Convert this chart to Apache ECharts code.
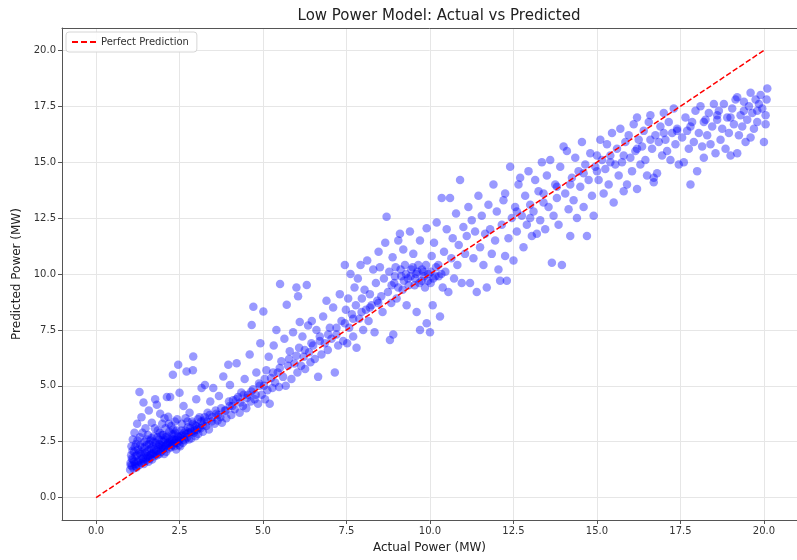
<!DOCTYPE html>
<html>
<head>
<meta charset="utf-8">
<script src="https://cdn.jsdelivr.net/npm/echarts@6/dist/echarts.min.js"></script>
<style>
  html, body { margin: 0; padding: 0; background: #fff; }
  #chart { width: 797px; height: 560px; }
</style>
</head>
<body>
<div id="chart"></div>
<script>
// 轴刻度
const tickValues = [0, 2.5, 5, 7.5, 10, 12.5, 15, 17.5, 20];

// 完美预测参考线 (y = x)
const perfectX = [0, 20];
const perfectY = [0, 20];

// 散点 [实际功率, 预测功率]，按实际功率分段
const points_1_to_2_5 = [
  [1.02,1.25],[1.03,1.55],[1.05,1.9],[1.06,2.3],[1.08,1.4],[1.1,2.6],[1.1,1.7],[1.12,1.3],[1.14,2.05],[1.15,2.9],
  [1.17,1.5],[1.18,1.85],[1.2,2.4],[1.21,1.35],[1.23,3.3],[1.25,1.65],[1.26,2.15],[1.28,1.45],[1.3,4.72],[1.31,2.7],
  [1.33,1.95],[1.35,1.55],[1.36,3.6],[1.38,2.25],[1.4,1.75],[1.42,4.25],[1.43,1.5],[1.45,2.5],[1.47,2.0],[1.48,3.1],
  [1.5,1.65],[1.52,2.35],[1.54,1.85],[1.55,2.8],[1.57,1.6],[1.58,3.9],[1.6,2.15],[1.62,1.75],[1.63,2.55],[1.65,1.95],
  [1.67,3.35],[1.68,1.7],[1.7,2.3],[1.72,2.0],[1.73,2.75],[1.75,1.85],[1.77,4.4],[1.78,2.45],[1.8,2.1],[1.82,4.15],
  [1.83,1.9],[1.85,3.0],[1.87,2.25],[1.88,2.6],[1.9,1.95],[1.92,3.75],[1.93,2.35],[1.95,2.05],[1.97,2.8],[1.98,3.3],
  [2.0,2.15],[2.02,2.5],[2.04,1.95],[2.05,3.55],[2.07,2.3],[2.09,2.7],[2.1,2.05],[2.12,4.5],[2.14,2.4],[2.16,3.62],
  [2.17,2.2],[2.19,2.95],[2.2,2.5],[2.22,4.5],[2.24,2.25],[2.25,3.2],[2.27,2.6],[2.29,2.35],[2.3,5.5],[2.32,2.85],
  [2.34,2.3],[2.36,3.4],[2.38,2.55],[2.4,2.15],[2.42,3.0],[2.44,2.45],[2.46,5.94],[2.47,2.7],[2.49,2.35],[2.5,4.69]
];

const points_2_5_to_5 = [
  [2.52,2.3],[2.55,2.75],[2.57,3.3],[2.6,2.45],[2.62,4.1],[2.64,2.9],[2.66,2.55],[2.68,3.55],[2.71,5.64],[2.73,2.7],
  [2.75,3.15],[2.78,2.6],[2.8,3.8],[2.83,2.95],[2.85,2.65],[2.88,3.4],[2.9,5.7],[2.91,6.31],[2.93,2.9],[2.96,3.25],
  [2.98,2.75],[3.0,4.4],[3.03,3.05],[3.06,2.85],[3.1,3.6],[3.13,3.1],[3.16,4.9],[3.2,2.95],[3.23,3.45],[3.26,5.04],
  [3.3,3.2],[3.34,3.8],[3.38,3.05],[3.42,4.3],[3.46,3.4],[3.51,4.9],[3.55,3.3],[3.6,3.75],[3.64,3.45],[3.68,4.55],
  [3.72,3.6],[3.77,3.35],[3.81,5.42],[3.85,3.9],[3.9,3.55],[3.96,5.94],[4.0,4.1],[4.01,5.04],[4.05,3.7],[4.1,4.35],
  [4.15,3.95],[4.21,6.01],[4.25,4.5],[4.3,3.8],[4.35,4.7],[4.4,4.1],[4.45,5.3],[4.5,4.0],[4.55,4.6],[4.6,6.4],
  [4.63,4.3],[4.66,7.72],[4.7,4.85],[4.71,8.54],[4.75,4.4],[4.8,5.6],[4.85,4.2],[4.88,5.1],[4.92,6.9],[4.96,4.6]
];

const points_5_to_7_5 = [
  [5.01,8.32],[5.03,5.0],[5.06,4.4],[5.1,5.7],[5.13,4.8],[5.17,6.3],[5.2,4.2],[5.24,5.35],[5.28,4.9],[5.32,6.8],
  [5.36,5.15],[5.4,7.5],[5.44,5.6],[5.48,4.95],[5.51,9.55],[5.55,6.1],[5.6,5.4],[5.64,7.1],[5.68,5.0],[5.71,8.62],
  [5.75,5.9],[5.8,6.55],[5.85,5.3],[5.9,7.4],[5.94,6.0],[6.0,9.4],[6.03,5.6],[6.05,9.0],[6.08,6.7],[6.1,7.85],
  [6.14,5.9],[6.18,7.2],[6.22,6.3],[6.26,5.75],[6.31,9.51],[6.35,7.7],[6.38,6.5],[6.42,6.05],[6.46,7.9],[6.5,6.8],
  [6.55,6.2],[6.6,7.5],[6.65,5.4],[6.7,7.0],[6.75,6.4],[6.8,8.1],[6.85,6.9],[6.9,8.8],[6.94,6.6],[7.0,7.6],
  [7.05,7.1],[7.1,8.5],[7.15,5.6],[7.2,7.3],[7.25,6.8],[7.3,9.1],[7.35,7.9],[7.4,7.0],[7.45,10.4],[7.48,8.4]
];

const points_7_5_to_10 = [
  [7.52,6.9],[7.55,8.9],[7.58,7.6],[7.62,10.0],[7.66,8.2],[7.7,7.2],[7.74,9.4],[7.78,8.6],[7.8,6.7],[7.84,9.8],
  [7.88,8.0],[7.92,10.4],[7.96,8.9],[8.0,7.5],[8.04,9.3],[8.08,8.4],[8.12,10.6],[8.16,7.9],[8.2,9.1],[8.25,8.6],
  [8.3,10.2],[8.34,7.4],[8.38,9.6],[8.42,8.8],[8.46,11.0],[8.5,10.3],[8.54,9.0],[8.58,8.3],[8.62,9.8],[8.66,11.4],
  [8.7,12.56],[8.74,9.2],[8.78,10.1],[8.8,7.05],[8.84,8.7],[8.88,10.75],[8.9,7.3],[8.93,9.6],[8.97,10.3],[9.0,8.9],
  [9.05,11.5],[9.1,11.8],[9.14,9.9],[9.18,9.3],[9.2,11.1],[9.25,10.4],[9.3,8.6],[9.34,9.8],[9.4,11.9],[9.44,10.2],
  [9.5,10.9],[9.54,9.5],[9.58,10.0],[9.6,8.3],[9.65,10.4],[9.7,11.5],[9.7,7.5],[9.75,9.7],[9.8,10.1],[9.85,9.4],
  [9.9,12.05],[9.9,7.8],[9.95,10.0],[10.0,7.4]
];

const points_10_to_12_5 = [
  [10.02,9.6],[10.05,10.8],[10.08,8.6],[10.12,11.4],[10.16,9.9],[10.2,12.3],[10.25,10.4],[10.3,8.1],[10.35,13.4],[10.38,9.4],
  [10.42,11.0],[10.46,10.1],[10.5,12.0],[10.55,9.2],[10.6,13.4],[10.64,10.7],[10.68,11.6],[10.72,9.8],[10.78,12.7],[10.82,10.4],
  [10.86,11.3],[10.9,14.2],[10.95,9.6],[11.0,12.1],[11.05,10.9],[11.1,11.7],[11.15,13.0],[11.2,9.6],[11.25,12.4],[11.3,10.7],
  [11.35,11.9],[11.4,9.2],[11.45,13.5],[11.5,11.2],[11.55,12.6],[11.6,10.4],[11.65,11.8],[11.7,9.4],[11.75,13.1],[11.8,12.0],
  [11.85,10.9],[11.9,14.0],[11.95,11.5],[12.0,12.8],[12.05,10.2],[12.1,9.7],[12.15,12.2],[12.2,13.3],[12.25,10.8],[12.25,13.6],
  [12.3,9.7],[12.35,11.6],[12.4,14.8],[12.45,12.5],[12.5,10.6]
];

const points_12_5_to_15 = [
  [12.55,13.0],[12.6,11.9],[12.65,14.0],[12.7,14.3],[12.75,12.6],[12.8,11.2],[12.85,13.5],[12.9,12.2],[12.95,14.6],[13.0,13.1],
  [13.05,11.7],[13.1,12.8],[13.15,14.2],[13.2,11.8],[13.25,13.7],[13.3,12.4],[13.35,15.0],[13.4,13.2],[13.45,12.0],[13.5,14.4],
  [13.55,13.0],[13.6,15.1],[13.65,10.5],[13.7,12.6],[13.75,14.0],[13.8,13.4],[13.85,12.2],[13.9,14.8],[13.95,10.4],[14.0,15.7],
  [14.05,13.6],[14.1,15.5],[14.15,12.9],[14.2,11.7],[14.25,14.3],[14.3,13.3],[14.35,15.2],[14.4,12.5],[14.45,14.6],[14.5,13.9],
  [14.55,15.9],[14.6,13.0],[14.65,14.9],[14.7,11.7],[14.75,14.2],[14.8,15.4],[14.85,13.5],[14.9,12.6],[14.95,14.8],[15.0,15.3]
];

const points_15_to_17_5 = [
  [15.05,14.2],[15.1,16.0],[15.15,15.1],[15.2,13.6],[15.25,14.7],[15.3,15.8],[15.35,14.0],[15.4,15.3],[15.45,16.3],[15.5,13.2],
  [15.55,14.9],[15.6,15.6],[15.65,14.4],[15.7,16.5],[15.75,15.0],[15.8,13.7],[15.85,15.9],[15.9,14.0],[15.95,16.2],[16.0,15.2],
  [16.05,14.6],[16.1,16.7],[16.15,15.5],[16.2,13.8],[16.2,17.0],[16.25,16.0],[16.3,14.9],[16.35,15.7],[16.4,16.4],[16.45,15.1],
  [16.5,14.4],[16.55,16.8],[16.6,17.1],[16.65,15.6],[16.7,14.3],[16.7,14.1],[16.75,16.2],[16.8,14.5],[16.85,15.9],[16.9,16.6],
  [16.95,15.3],[17.0,17.2],[17.05,16.0],[17.1,15.5],[17.15,16.8],[17.2,15.1],[17.25,16.3],[17.3,17.4],[17.35,15.8],[17.4,16.5],
  [17.45,14.9]
];

const points_17_5_to_20 = [
  [17.55,16.1],[17.6,15.0],[17.65,17.0],[17.7,16.4],[17.75,15.6],[17.8,14.0],[17.85,16.8],[17.9,15.9],[17.95,17.3],[18.0,14.6],
  [18.05,16.3],[18.1,17.5],[18.15,15.7],[18.2,15.2],[18.25,16.9],[18.3,16.2],[18.35,17.2],[18.4,15.8],[18.45,16.6],[18.5,17.6],
  [18.55,15.4],[18.6,16.9],[18.65,17.3],[18.7,16.0],[18.75,16.5],[18.8,17.6],[18.85,15.6],[18.9,17.0],[18.95,16.3],[19.0,15.3],
  [19.05,17.4],[19.1,16.7],[19.15,17.8],[19.2,15.4],[19.2,17.9],[19.25,16.2],[19.3,17.1],[19.35,16.6],[19.4,17.7],[19.45,15.9],
  [19.5,16.9],[19.55,17.5],[19.6,16.1],[19.6,18.1],[19.65,17.2],[19.7,16.5],[19.75,17.8],[19.8,16.8],[19.85,17.6],[19.9,18.0],
  [19.95,17.4],[20.0,15.9],[20.05,16.7],[20.05,17.1],[20.08,17.8],[20.1,18.3]
];

// 密集核心区域的额外点（低功率段重叠最多）
const points_core_low = [
  [1.04,1.45],[1.07,1.75],[1.09,2.1],[1.13,1.6],[1.16,2.25],[1.19,1.4],[1.22,1.9],[1.24,2.55],[1.27,1.6],[1.29,2.0],
  [1.32,2.35],[1.34,1.7],[1.37,2.05],[1.39,2.9],[1.41,1.6],[1.44,1.9],[1.46,2.25],[1.49,1.75],[1.51,2.6],[1.53,2.05],
  [1.56,1.8],[1.59,2.4],[1.61,1.9],[1.64,2.2],[1.66,2.65],[1.69,1.95],[1.71,2.5],[1.74,2.15],[1.76,3.1],[1.79,1.95],
  [1.81,2.35],[1.84,2.7],[1.86,2.05],[1.89,2.4],[1.91,2.9],[1.94,2.2],[1.96,2.55],[1.99,2.3],[2.01,2.8],[2.03,2.2],
  [2.06,2.6],[2.08,3.1],[2.11,2.35],[2.13,2.75],[2.15,2.45],[2.18,3.3],[2.21,2.6],[2.23,2.4],[2.26,2.85],[2.28,2.5],
  [2.31,3.05],[2.33,2.6],[2.35,2.45],[2.37,2.9],[2.41,2.6],[2.43,3.5],[2.45,2.75],[2.48,2.55],[2.53,2.65],[2.56,3.0],
  [2.59,2.8],[2.63,2.6],[2.67,3.0],[2.7,2.85],[2.74,3.4],[2.77,2.9],[2.82,3.1],[2.86,2.95],[2.9,3.3],[2.95,3.0],
  [3.0,3.2],[3.05,3.5],[3.09,3.15],[3.15,3.4],[3.19,3.25],[3.25,3.6],[3.32,3.4],[3.4,3.7],[3.48,3.6],[3.58,3.9],
  [3.66,3.7],[3.75,4.0],[3.88,3.9],[3.98,4.3],[4.08,4.1],[4.2,4.4],[4.32,4.25],[4.42,4.6],[4.52,4.45],[4.65,4.75],
  [4.78,4.6],[4.9,5.0]
];

const points_core_mid = [
  [5.05,5.3],[5.3,5.6],[5.5,5.8],[5.78,6.2],[6.0,6.35],[6.25,6.6],[6.45,6.9],[6.7,7.2],[6.95,7.3],[7.2,7.6],
  [7.45,7.8],[7.7,8.0],[7.95,8.3],[8.2,8.5],[8.45,8.7],[8.85,9.5],[8.95,9.9],[9.05,9.4],[9.12,10.2],[9.22,9.7],
  [9.28,10.0],[9.36,9.5],[9.42,9.9],[9.48,10.3],[9.56,9.8],[9.62,10.1],[9.68,9.6],[9.76,10.2],[9.82,9.9],[9.88,10.4],
  [9.94,9.7],[10.02,10.1],[10.1,9.8],[10.18,10.3],[10.26,9.9],[10.34,10.0]
];

const points_core_high = [
  [12.6,12.8],[13.0,12.5],[13.4,13.6],[13.8,13.9],[14.2,14.0],[14.6,14.5],[15.0,14.6],[15.4,15.0],[15.8,15.3],[16.2,15.6],
  [16.6,16.0],[17.0,16.3],[17.4,16.4],[17.8,16.6],[18.2,16.8],[18.6,17.1],[19.0,17.0],[19.4,17.3],[19.8,17.3]
];

const scatterData = [].concat(
  points_1_to_2_5, points_2_5_to_5, points_5_to_7_5, points_7_5_to_10,
  points_10_to_12_5, points_12_5_to_15, points_15_to_17_5, points_17_5_to_20,
  points_core_low, points_core_mid, points_core_high
);

const chart = echarts.init(document.getElementById('chart'), null, { renderer: 'canvas' });

const fontFamily = 'DejaVu Sans';
const tickFmt = v => Number(v).toFixed(1);
// 图例中的红色虚线图标
const dashIcon = 'path://M0,4H6V6H0Z M9,4H15V6H9Z M18,4H24V6H18Z';
const X_MIN = -1.02, X_MAX = 20.99;

const option = {
  backgroundColor: '#fff',
  animation: false,
  textStyle: { fontFamily: fontFamily },
  title: {
    text: 'Low Power Model: Actual vs Predicted',
    left: 434,
    top: 4,
    textAlign: 'center',
    textStyle: { fontSize: 15, fontWeight: 'normal', color: '#222', fontFamily: fontFamily }
  },
  legend: {
    left: 66,
    top: 32,
    orient: 'vertical',
    data: [{ name: 'Perfect Prediction', icon: dashIcon }],
    itemWidth: 24,
    itemHeight: 10,
    padding: [5, 8, 5, 6],
    borderColor: '#d6d6d6',
    borderWidth: 1,
    borderRadius: 3,
    backgroundColor: 'rgba(255,255,255,0.85)',
    textStyle: { fontSize: 10, color: '#333', fontFamily: fontFamily }
  },
  grid: {
    left: 62,
    top: 28,
    right: 0,
    bottom: 40
  },
  xAxis: [{
    type: 'value',
    min: X_MIN,
    max: X_MAX,
    name: 'Actual Power (MW)',
    nameLocation: 'middle',
    nameGap: 22,
    nameTextStyle: { fontSize: 12, color: '#222' },
    axisLine: { show: true, onZero: false, lineStyle: { color: '#555' } },
    axisTick: { show: true, length: 4, customValues: tickValues, lineStyle: { color: '#555' } },
    axisLabel: { customValues: tickValues, formatter: tickFmt, fontSize: 10, color: '#333', margin: 6 },
    splitLine: { show: true, lineStyle: { color: '#e6e6e6', width: 1 } }
  }, {
    // 顶部边框
    type: 'value',
    position: 'top',
    min: X_MIN,
    max: X_MAX,
    axisLine: { show: true, onZero: false, lineStyle: { color: '#555' } },
    axisTick: { show: false },
    axisLabel: { show: false },
    splitLine: { show: false }
  }],
  yAxis: {
    type: 'value',
    min: -1.0,
    max: 21.0,
    name: 'Predicted Power (MW)',
    nameLocation: 'middle',
    nameGap: 36,
    nameTextStyle: { fontSize: 12, color: '#222' },
    axisLine: { show: true, onZero: false, lineStyle: { color: '#555' } },
    axisTick: { show: true, length: 4, customValues: tickValues, lineStyle: { color: '#555' } },
    axisLabel: { customValues: tickValues, formatter: tickFmt, fontSize: 10, color: '#333', margin: 6 },
    splitLine: { show: true, lineStyle: { color: '#e6e6e6', width: 1 } }
  },
  series: [
    {
      name: 'Actual vs Predicted',
      type: 'scatter',
      data: scatterData,
      symbolSize: 8.5,
      itemStyle: { color: 'rgba(0,0,255,0.5)', borderWidth: 0 },
      z: 2
    },
    {
      name: 'Perfect Prediction',
      type: 'line',
      data: perfectX.map((x, i) => [x, perfectY[i]]),
      symbol: 'none',
      lineStyle: { color: '#ff0000', width: 1.5, type: [5.5, 2.4] },
      itemStyle: { color: '#ff0000' },
      z: 3
    }
  ]
};

chart.setOption(option);
</script>
</body>
</html>
